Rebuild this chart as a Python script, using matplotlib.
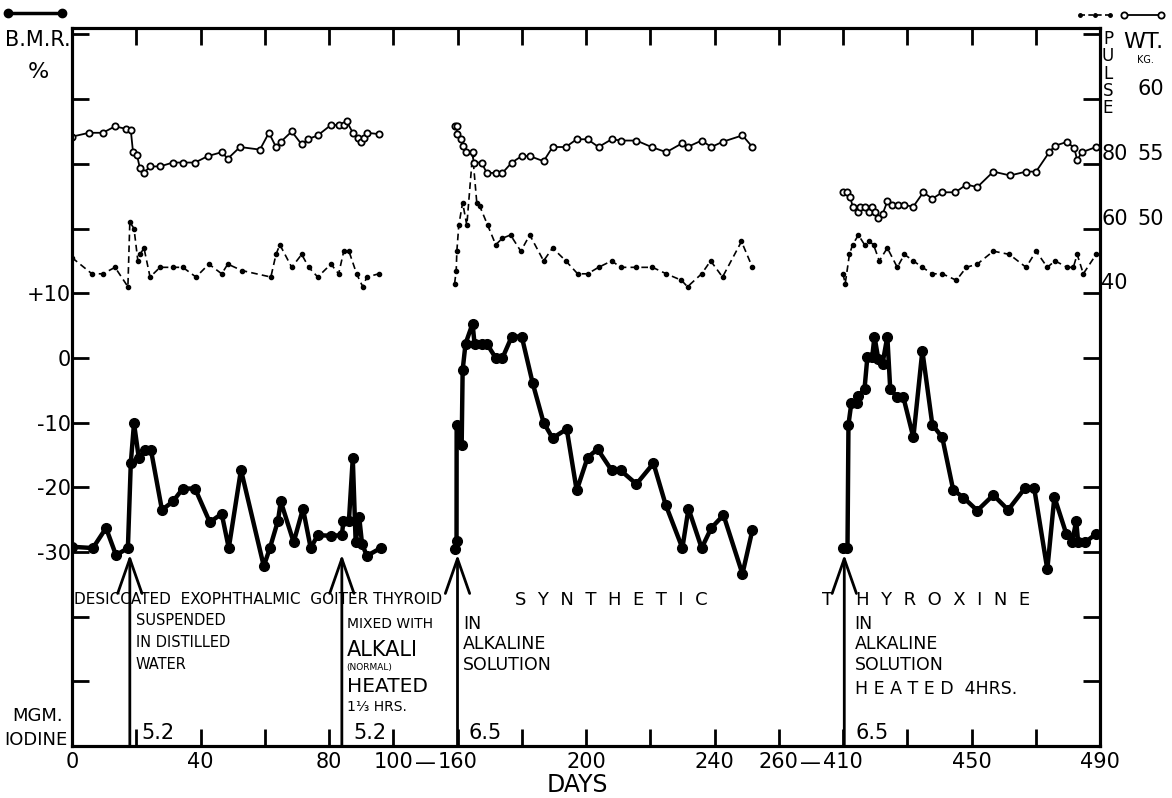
import numpy as np
import matplotlib
matplotlib.use("Agg")
import matplotlib.pyplot as plt
from matplotlib.lines import Line2D

plt.rcParams['font.family'] = ['DejaVu Sans']

# --- data (days, BMR %, pulse, weight kg) ---
# desiccated thyroid period
bmr_day_a = [0, 6.5, 10.6, 13.7, 17.4, 18.3, 19.3, 20.8, 22.7, 24.6, 28, 31.4, 34.5, 38.3,
             42.9, 46.6, 48.8, 52.6, 59.7, 61.6, 64.1, 65, 69, 71.9, 74.3, 76.5, 80.6, 84,
             84.5, 86.2, 87.4, 88.3, 89.4, 90.3, 91.8, 96.1]
bmr_a = [-29.2, -29.4, -26.3, -30.5, -29.4, -16.3, -10.1, -15.5, -14.3, -14.3, -23.5, -22.2,
         -20.2, -20.2, -25.4, -24.1, -29.4, -17.3, -32.2, -29.4, -25.2, -22.2, -28.5, -23.3,
         -29.4, -27.4, -27.5, -27.4, -25.2, -25.2, -15.5, -28.5, -24.6, -28.8, -30.6, -29.4]
pulse_day_a = [0, 6.2, 9.6, 13.4, 17.4, 18, 19.3, 20.5, 21.2, 22.4, 24.3, 27.4, 31.4, 34.5,
               38.6, 42.6, 46.6, 48.5, 52.9, 61.9, 63.5, 64.7, 68.4, 71.5, 73.7, 76.5, 80.6,
               83, 84.6, 86.2, 88.6, 90.5, 91.8, 95.5]
pulse_a = [51, 46, 46, 48, 42, 62, 60, 50, 52, 54, 45, 48, 48, 48, 45, 49, 46, 49, 47, 45,
           52, 55, 48, 52, 48, 45, 49, 46, 53, 53, 46, 42, 45, 46]
wt_day_a = [0, 5.3, 9.6, 13.4, 16.8, 18.3, 19, 20.2, 21.1, 22.4, 24.3, 27.4, 31.4, 34.5,
            38.3, 42.3, 46.6, 48.5, 52.3, 58.5, 61.3, 63.5, 65, 68.4, 71.5, 73.4, 76.5,
            80.6, 83, 84.6, 85.5, 87.4, 89, 89.9, 90.8, 91.8, 95.5]
wt_a = [57.1, 57.4, 57.4, 57.9, 57.7, 57.6, 55.9, 55.7, 54.7, 54.3, 54.8, 54.8, 55.1, 55.1,
        55.1, 55.6, 55.9, 55.4, 56.3, 56.1, 57.4, 56.3, 56.7, 57.5, 56.5, 56.9, 57.2, 58.0,
        58.0, 58.0, 58.3, 57.4, 57.0, 56.7, 57.0, 57.4, 57.3]

# synthetic thyroxine, alkaline solution
bmr_day_b = [157.6, 159.1, 159.2, 161.3, 161.6, 162.5, 164.7, 165.3, 167.5, 169.1, 171.9,
             174, 176.9, 180, 183.4, 186.8, 189.6, 194, 197.1, 200.5, 203.6, 208, 210.8,
             215.7, 221, 224.8, 230, 231.9, 236, 239, 242.8, 248.7, 251.8]
bmr_b = [-29.5, -28.3, -10.3, -13.4, -1.9, 2.2, 5.3, 2.2, 2.2, 2.2, 0, 0, 3.3, 3.3, -3.9,
         -10, -12.4, -11, -20.5, -15.4, -14.1, -17.4, -17.4, -19.5, -16.3, -22.7, -29.4,
         -23.3, -29.4, -26.3, -24.3, -33.4, -26.6]
pulse_day_b = [157.3, 158.8, 159.4, 160.4, 161.6, 162.9, 164.7, 166, 166.9, 169.4, 171.9,
               174, 176.5, 179.7, 182.5, 186.8, 189.6, 193.7, 197.4, 200.5, 203.9, 208,
               210.8, 215.7, 220.7, 225, 229.7, 231.6, 236, 238.8, 242.5, 248.4, 251.8]
pulse_b = [43, 47, 53, 61, 68, 61, 83, 68, 67, 61, 55, 57, 58, 53, 58, 50, 54, 50, 46, 46,
           48, 50, 48, 48, 48, 46, 44, 42, 46, 50, 45, 56, 48]
wt_day_b = [157.6, 159.1, 159.8, 161, 161.6, 162.5, 164.7, 165, 167.5, 169.1, 171.9, 174,
            176.9, 180, 182.5, 186.8, 189.6, 193.7, 197.1, 200.5, 203.9, 208, 210.8, 215.7,
            220.4, 225, 230, 231.6, 236, 239, 242.5, 248.7, 251.8]
wt_b = [57.9, 57.9, 57.3, 56.9, 56.4, 55.9, 55.9, 55.1, 55.1, 54.3, 54.3, 54.3, 55.1, 55.6,
        55.6, 55.2, 56.3, 56.3, 56.9, 56.9, 56.3, 56.9, 56.8, 56.8, 56.3, 55.9, 56.6, 56.3,
        56.8, 56.3, 56.7, 57.2, 56.3]

# synthetic thyroxine, heated 4 hrs
bmr_day_c = [409.5, 411.4, 411.7, 412.6, 414.5, 414.8, 416.7, 417.6, 419.1, 419.8, 421,
             422.3, 423.8, 424.7, 426.9, 428.8, 431.9, 434.7, 437.8, 440.9, 444.3, 447.5,
             451.8, 456.8, 461.4, 466.7, 469.5, 473.6, 475.8, 479.5, 481.3, 482.6, 483.2,
             485.4, 488.8]
bmr_c = [-29.4, -29.4, -10.3, -7, -7, -5.9, -4.8, 0.2, 0.2, 3.3, -0.2, -0.9, 3.3, -4.8,
         -6.1, -6.1, -12.3, 1.1, -10.3, -12.3, -20.4, -21.6, -23.6, -21.2, -23.5, -20.1,
         -20.1, -32.7, -21.5, -27.2, -28.5, -25.2, -28.5, -28.5, -27.2]
pulse_day_c = [409.8, 410.7, 412, 413, 414.8, 416.7, 418.2, 419.5, 421.3, 423.8, 426.9,
               429.1, 431.9, 434.7, 437.8, 440.9, 445.3, 448.4, 451.8, 456.8, 461.8, 467,
               470.1, 473.6, 476, 479.8, 481.7, 482.9, 484.8, 488.8]
pulse_c = [46, 43, 52, 55, 58, 55, 56, 55, 50, 54, 48, 52, 50, 48, 46, 46, 44, 48, 49, 53,
           52, 48, 53, 48, 50, 48, 48, 52, 46, 52]
wt_day_c = [409.8, 411.4, 412.3, 413, 414.8, 415.2, 416.7, 418, 419.1, 420, 421, 422.3,
            423.8, 425.4, 427.2, 429.1, 431.9, 435, 437.8, 440.9, 445, 448.4, 451.8, 456.8,
            462, 467, 470.1, 474.2, 476, 479.8, 482, 482.9, 484.4, 488.8]
wt_c = [52.8, 52.8, 52.4, 51.7, 51.3, 51.7, 51.7, 51.3, 51.7, 51.3, 50.8, 51.1, 52.1, 51.8,
        51.8, 51.8, 51.7, 52.8, 52.3, 52.8, 52.8, 53.4, 53.2, 54.4, 54.1, 54.4, 54.4, 55.9,
        56.4, 56.7, 56.2, 55.3, 55.9, 56.3]

dose_days = [18, 84, 160, 410.4]
dose_labels = ['5.2', '5.2', '6.5', '6.5']

x_major = [0, 40, 80, 100, 160, 200, 240, 260, 410, 450, 490]
x_minor = [20, 60, 180, 220, 430, 470]
break_days = [130, 335]


# broken day axis: 100-160 and 260-410 squeezed
def fwd(d):
    d = np.asarray(d, float)
    return np.where(d <= 100, d,
           np.where(d <= 160, 100 + (d - 100) / 3,
           np.where(d <= 260, d - 40,
           np.where(d <= 410, 220 + (d - 260) * 20 / 150, d - 170))))


def inv(u):
    u = np.asarray(u, float)
    return np.where(u <= 100, u,
           np.where(u <= 120, 100 + (u - 100) * 3,
           np.where(u <= 220, u + 40,
           np.where(u <= 240, 260 + (u - 220) * 7.5, u + 170))))


fig = plt.figure(figsize=(11.72, 7.98), dpi=100)
ax = fig.add_axes([72 / 1172, 1 - 746 / 798, 1028 / 1172, 718 / 798])
ax.set_xscale('function', functions=(fwd, inv))
ax.set_xlim(0, 490)
ax.set_ylim(-60, 51)

axp = ax.twinx()
axp.set_ylim(2 * -60 + 20, 2 * 51 + 20)
axw = ax.twinx()
axw.set_ylim((-60 + 80) / 2, (51 + 80) / 2)

for a in (ax, axp, axw):
    for s in a.spines.values():
        s.set_linewidth(2.2)

for dd, bb in [(bmr_day_a, bmr_a), (bmr_day_b, bmr_b), (bmr_day_c, bmr_c)]:
    ax.plot(dd, bb, color='black', lw=3.2, marker='o', ms=7, solid_joinstyle='round')
for dd, pp in [(pulse_day_a, pulse_a), (pulse_day_b, pulse_b), (pulse_day_c, pulse_c)]:
    axp.plot(dd, pp, color='black', lw=1.2, ls=(0, (4, 2.5)), marker='o', ms=3)
for dd, ww in [(wt_day_a, wt_a), (wt_day_b, wt_b), (wt_day_c, wt_c)]:
    axw.plot(dd, ww, color='black', lw=1.3, marker='o', ms=4.5, mfc='white', mew=1.3)

# ticks
ax.set_xticks(x_major)
ax.set_xticklabels([str(v) for v in x_major], fontsize=15)
ax.set_xticks(x_minor, minor=True)
ax.tick_params(axis='x', which='both', direction='in', length=12, width=2, top=True, pad=4)
ax.set_yticks(np.arange(-50, 51, 10))
ax.set_yticklabels(['', '', '-30', '-20', '-10', '0', '+10', '', '', '', ''], fontsize=15)
ax.tick_params(axis='y', direction='in', length=12, width=2, right=True, pad=1)

axp.set_yticks([40, 60, 80])
axp.set_yticklabels(['40', '60', '80'], fontsize=15, va='bottom')
axp.tick_params(axis='y', length=0, pad=1)
axw.set_yticks([50, 55, 60])
axw.set_yticklabels(['50', '55', '60'], fontsize=15, va='bottom')
axw.tick_params(axis='y', length=0, pad=27)

for b in break_days:
    ax.text(b, -0.024, '\u2014', fontsize=15, ha='center', va='center',
            transform=ax.get_xaxis_transform())
ax.text(0.492, -0.054, 'DAYS', transform=ax.transAxes, fontsize=17, ha='center',
        va='center')

# dose arrows
for d, lab in zip(dose_days, dose_labels):
    ax.annotate('', xy=(d, -30.4), xytext=(d, -60),
                arrowprops=dict(arrowstyle='->,head_length=1.0,head_width=0.35', lw=2,
                                color='black', mutation_scale=25, shrinkA=0, shrinkB=0))
    ax.annotate(lab, xy=(d, -59.6), xytext=(8, 0), textcoords='offset points',
                fontsize=15, ha='left', va='bottom')

# annotations
ax.text(0.6, -37.4, 'DESICCATED  EXOPHTHALMIC  GOITER THYROID', fontsize=11,
        ha='left', va='center')
ax.text(178, -37.4, 'S  Y  N  T  H  E  T  I  C', fontsize=13, ha='left', va='center')
ax.text(360, -37.4, 'T    H  Y  R  O  X  I  N  E', fontsize=13, ha='left', va='center')
ax.text(19.8, -39.5, 'SUSPENDED\nIN DISTILLED\nWATER', fontsize=10.5, ha='left', va='top',
        linespacing=1.55)
ax.text(85.5, -41.2, 'MIXED WITH', fontsize=10, ha='left', va='center')
ax.text(85.5, -45.2, 'ALKALI', fontsize=15, ha='left', va='center')
ax.text(85.5, -47.8, '(NORMAL)', fontsize=6.5, ha='left', va='center')
ax.text(85.5, -50.8, 'HEATED', fontsize=14.5, ha='left', va='center')
ax.text(85.5, -53.9, '1\u2153 HRS.', fontsize=10, ha='left', va='center')
ax.text(161.8, -39.7, 'IN\nALKALINE\nSOLUTION', fontsize=12.5, ha='left', va='top',
        linespacing=1.2)
ax.text(413.6, -39.7, 'IN\nALKALINE\nSOLUTION', fontsize=12.5, ha='left', va='top',
        linespacing=1.2)
ax.text(413.6, -51.2, 'H E A T E D  4HRS.', fontsize=12.5, ha='left', va='center')

fig.text(38 / 1172, 1 - 716 / 798, 'MGM.', fontsize=13, ha='center', va='center')
fig.text(36 / 1172, 1 - 740 / 798, 'IODINE', fontsize=13, ha='center', va='center')
fig.text(38 / 1172, 1 - 40 / 798, 'B.M.R.', fontsize=15, ha='center', va='center')
fig.text(38 / 1172, 1 - 72 / 798, '%', fontsize=16, ha='center', va='center')
fig.text(1108 / 1172, 1 - 30 / 798, 'P\nU\nL\nS\nE', fontsize=12, ha='center', va='top',
         linespacing=0.95)
fig.text(1143 / 1172, 1 - 42 / 798, 'WT.', fontsize=16, ha='center', va='center')
fig.text(1145 / 1172, 1 - 60 / 798, 'KG.', fontsize=7, ha='center', va='center')

# legend keys
fig.add_artist(Line2D([8 / 1172, 62 / 1172], [1 - 13 / 798] * 2, color='black', lw=2.5,
                      marker='o', ms=6, transform=fig.transFigure))
fig.add_artist(Line2D([1080 / 1172, 1095 / 1172, 1110 / 1172], [1 - 15 / 798] * 3,
                      color='black', lw=1.2, ls=(0, (3, 2)), marker='o', ms=2.5,
                      transform=fig.transFigure))
fig.add_artist(Line2D([1124 / 1172, 1161 / 1172], [1 - 15 / 798] * 2, color='black',
                      lw=1.3, marker='o', ms=4.5, mfc='white', mew=1.3,
                      transform=fig.transFigure))

fig.savefig('out.png', dpi=100)
